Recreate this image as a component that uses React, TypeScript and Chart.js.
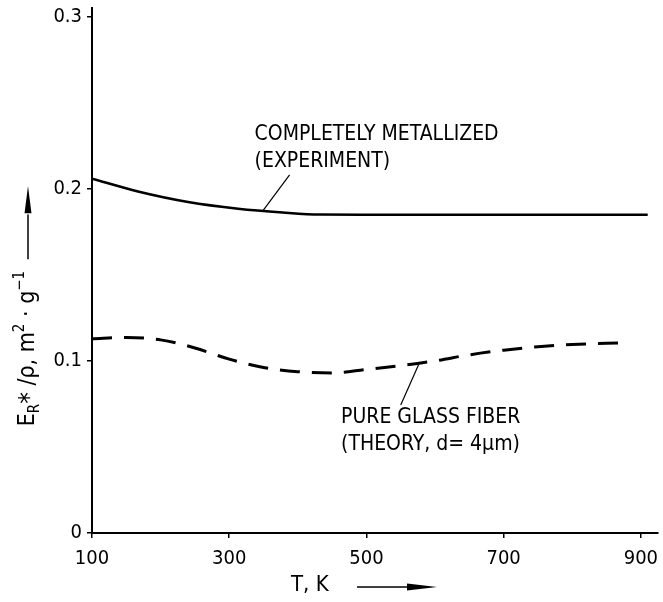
import React, { useEffect, useRef } from "react";
import { Chart, registerables } from "chart.js";

Chart.register(...registerables);

// ---- data ----
const metalT = [100, 167, 240, 313, 378, 432, 500, 600, 700, 800, 910];
const metalV = [0.2058, 0.1984, 0.1923, 0.1884, 0.1862, 0.185, 0.1849, 0.1849, 0.1849, 0.1849, 0.1849];

const glassT = [100, 150, 200, 250, 300, 350, 400, 450, 500, 550, 600, 650, 700, 750, 800, 850, 880];
const glassV = [0.1128, 0.1136, 0.1122, 0.1075, 0.101, 0.0962, 0.0937, 0.093, 0.095, 0.0972, 0.1, 0.1035, 0.1062, 0.1082, 0.1095, 0.1102, 0.1106];

const xTicks = [100, 300, 500, 700, 900];
const yTicks = [0, 0.1, 0.2, 0.3];

// annotation labels (data coordinates: T, value)
const metalLabel = ["COMPLETELY METALLIZED", "(EXPERIMENT)"];
const metalLabelAt = [337, 0.2314, 0.2157];
const metalLeader = [388, 0.2081, 349, 0.1872];

const glassLabel = ["PURE GLASS FIBER", "(THEORY, d= 4\u00b5m)"];
const glassLabelAt = [463, 0.0669, 0.0512];
const glassLeader = [576, 0.0977, 550, 0.0744];

const FAMILY = "'DejaVu Sans Condensed', 'Liberation Sans Narrow', 'DejaVu Sans', sans-serif";

const toPoints = (xs: number[], ys: number[]) => xs.map((x, i) => ({ x, y: ys[i] }));

const annotationPlugin = {
  id: "annotations",
  afterDraw(chart: any) {
    const ctx: CanvasRenderingContext2D = chart.ctx;
    const xs = chart.scales.x;
    const ys = chart.scales.y;
    const ca = chart.chartArea;
    ctx.save();
    ctx.fillStyle = "#000";
    ctx.strokeStyle = "#000";

    // text labels
    ctx.font = `21px ${FAMILY}`;
    ctx.textAlign = "left";
    ctx.textBaseline = "middle";
    const drawLabel = (lines: string[], at: number[]) => {
      const px = xs.getPixelForValue(at[0]);
      lines.forEach((l, i) => ctx.fillText(l, px, ys.getPixelForValue(at[i + 1])));
    };
    drawLabel(metalLabel, metalLabelAt);
    drawLabel(glassLabel, glassLabelAt);

    // leaders
    ctx.lineWidth = 1.2;
    const leader = (p: number[]) => {
      ctx.beginPath();
      ctx.moveTo(xs.getPixelForValue(p[0]), ys.getPixelForValue(p[1]));
      ctx.lineTo(xs.getPixelForValue(p[2]), ys.getPixelForValue(p[3]));
      ctx.stroke();
    };
    leader(metalLeader);
    leader(glassLeader);

    // x axis title with arrow
    const tx = ca.left + 199;
    const ty = ca.bottom + 52;
    ctx.font = `22px ${FAMILY}`;
    ctx.textBaseline = "middle";
    ctx.fillText("T, K", tx, ty);
    ctx.lineWidth = 1.5;
    ctx.beginPath();
    ctx.moveTo(tx + 66, ty + 2);
    ctx.lineTo(tx + 120, ty + 2);
    ctx.stroke();
    ctx.beginPath();
    ctx.moveTo(tx + 146, ty + 2);
    ctx.lineTo(tx + 116, ty - 1.5);
    ctx.lineTo(tx + 116, ty + 5.5);
    ctx.closePath();
    ctx.fill();

    // y axis title (rotated) with arrow
    const bx = ca.left - 58;
    const by = ys.getPixelForValue(0.062);
    ctx.save();
    ctx.translate(bx, by);
    ctx.rotate(-Math.PI / 2);
    ctx.textBaseline = "alphabetic";
    let cx = 0;
    const part = (t: string, size: number, dy: number) => {
      ctx.font = `${size}px ${FAMILY}`;
      ctx.fillText(t, cx, dy);
      cx += ctx.measureText(t).width;
    };
    part("E", 23, 0);
    part("R", 15, 5);
    part("*", 26, 4);
    part(" /", 23, 0);
    part("\u03c1", 23, 0);
    part(", ", 23, 0);
    part("m", 23, 0);
    part("2", 15, -10);
    part(" \u00b7 ", 23, 0);
    part("g", 23, 0);
    part("\u22121", 15, -10);
    ctx.restore();

    const ax = ca.left - 64;
    ctx.lineWidth = 1.5;
    ctx.beginPath();
    ctx.moveTo(ax, ys.getPixelForValue(0.159));
    ctx.lineTo(ax, ys.getPixelForValue(0.185));
    ctx.stroke();
    const tip = ys.getPixelForValue(0.2015);
    ctx.beginPath();
    ctx.moveTo(ax, tip);
    ctx.lineTo(ax - 3.5, tip + 27);
    ctx.lineTo(ax + 3.5, tip + 27);
    ctx.closePath();
    ctx.fill();

    ctx.restore();
  },
};

export default function App() {
  const ref = useRef<HTMLCanvasElement | null>(null);

  useEffect(() => {
    if (!ref.current) return;
    const chart = new Chart(ref.current, {
      type: "line",
      data: {
        datasets: [
          {
            label: "Completely metallized (experiment)",
            data: toPoints(metalT, metalV),
            borderColor: "#000",
            borderWidth: 2.6,
            pointRadius: 0,
            cubicInterpolationMode: "monotone",
            fill: false,
          },
          {
            label: "Pure glass fiber (theory, d = 4 µm)",
            data: toPoints(glassT, glassV),
            borderColor: "#000",
            borderWidth: 3,
            borderDash: [20, 12],
            pointRadius: 0,
            cubicInterpolationMode: "monotone",
            fill: false,
          },
        ],
      },
      options: {
        responsive: false,
        animation: false,
        devicePixelRatio: 1,
        layout: { padding: { left: 0, top: 8, right: 5, bottom: 0 } },
        plugins: {
          legend: { display: false },
          tooltip: { enabled: false },
          title: { display: false },
        },
        scales: {
          x: {
            type: "linear",
            min: 100,
            max: 925,
            afterBuildTicks: (s: any) => {
              s.ticks = xTicks.map((v) => ({ value: v }));
            },
            afterFit: (s: any) => {
              s.height = 69;
              s.paddingLeft = 0;
              s.paddingRight = 0;
            },
            ticks: {
              color: "#000",
              font: { family: FAMILY, size: 20 },
              padding: 9,
              maxRotation: 0,
              autoSkip: false,
              callback: (v: any) => String(v),
            },
            grid: {
              display: true,
              drawOnChartArea: false,
              drawTicks: true,
              tickLength: 5,
              color: "#000",
              lineWidth: 1.5,
            },
            border: { display: true, color: "#000", width: 2 },
          },
          y: {
            type: "linear",
            min: 0,
            max: 0.305,
            afterBuildTicks: (s: any) => {
              s.ticks = yTicks.map((v) => ({ value: v }));
            },
            afterFit: (s: any) => {
              s.width = 92;
              s.paddingTop = 0;
              s.paddingBottom = 0;
            },
            ticks: {
              color: "#000",
              font: { family: FAMILY, size: 20 },
              padding: 5,
              autoSkip: false,
              callback: (v: any) => (v === 0 ? "0" : Number(v).toFixed(1)),
            },
            grid: {
              display: true,
              drawOnChartArea: false,
              drawTicks: true,
              tickLength: 5,
              color: "#000",
              lineWidth: 1.5,
            },
            border: { display: true, color: "#000", width: 2 },
          },
        },
      },
      plugins: [annotationPlugin],
    } as any);
    return () => chart.destroy();
  }, []);

  return (
    <canvas
      ref={ref}
      width={663}
      height={602}
      style={{ position: "fixed", left: 0, top: 0, width: 663, height: 602, background: "#fff" }}
    />
  );
}
